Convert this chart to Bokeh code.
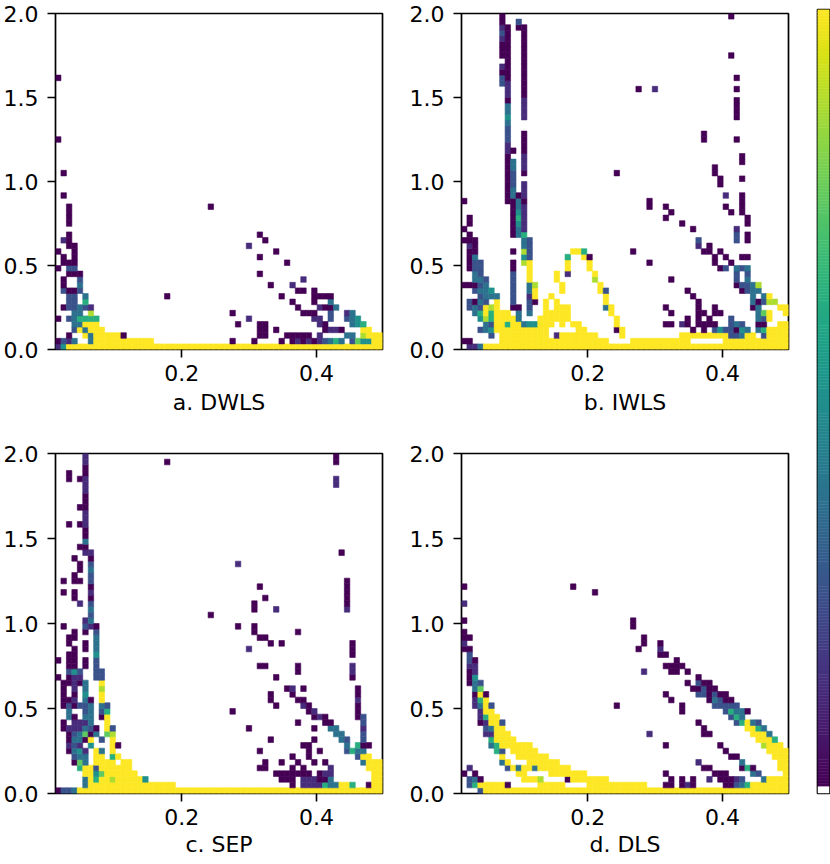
from bokeh.plotting import figure
from bokeh.layouts import row, column
from bokeh.models import ColumnDataSource, FixedTicker, PrintfTickFormatter, LinearColorMapper
from bokeh.palettes import Viridis256
from bokeh.embed import file_html
from bokeh.resources import INLINE

# ---------------- data ----------------
X_LO, X_HI = 0.0128, 0.4977
Y_LO, Y_HI = 0.0, 2.0
N_BINS = 60
LEVEL_LOW, LEVEL_HIGH = 1, 9
X_TICKS = [0.2, 0.4]
Y_TICKS = [0.0, 0.5, 1.0, 1.5, 2.0]
TITLES = ["a. DWLS", "b. IWLS", "c. SEP", "d. DLS"]

# row index (from bottom) -> "col:level" / "col1-col2:level" cells
DWLS = {
    0: "0:2 1:5 2-59:9",
    1: "0:1 1:3 2:2 3:4 6:4 7-17:9 32:1 36:1 41:1 43:1 44:2 45:1 46:2 47:1 48:2 49:3 50:4 51:6 52:4 54:3 55:7 56-57:5 58-59:9",
    2: "2:1 5:9 6:4 7-11:9 12:1 37-38:1 42-46:1 48:2 53-54:4 56:8 57-59:9",
    3: "3:3 4:9 5:4 6-8:9 37-38:1 40:1 49:1 50-51:2 52:1 56-57:9",
    4: "3-4:4 5-7:9 33:1 37-38:1 48:2 49:1 54:4 55:5 56:6",
    5: "0:1 2:3 3:4 4-7:6 35:2 47-48:2 50:3 53:3 54:4 55:5",
    6: "3-4:4 6:8 32:1 45-47:1 50:3 53:2 54:4",
    7: "1:1 2-3:3 4:4 5:3 6:2 44:1 48:2 49-50:1 51:4",
    8: "2-3:3 5:6 43:1 47:1 50:4",
    9: "2-3:3 5:4 20:1 41:1 47-50:1",
    10: "1:3 2-3:1 4:3 44-45:1 47:1",
    11: "1:1 4:4 39:1 43:2",
    12: "1:1 4:3 45:2",
    13: "2-4:1 37:1",
    14: "0:1 2-3:3",
    15: "1-3:1 42:1",
    16: "1:1 3:1 37:1",
    17: "0:1 3:1 40:1",
    18: "2-3:1 35:2",
    19: "1:2 2:1 38:1",
    20: "2:1 37:1",
    22: "2:1",
    23: "2:1",
    24: "2:1",
    25: "2:1 28:1",
    27: "1:1",
    31: "1:1",
    37: "0:1",
    48: "0:1",
}

IWLS = {
    0: "1-2:2 3:4 4-59:9",
    1: "0-1:1 7-26:9 31-41:9 48-59:9",
    2: "5:3 7-15:9 17:2 18-24:9 29:9 40-48:9 49-50:3 51:4 52-53:9 55:3 56-59:9",
    3: "3:3 4:4 5:5 6-15:9 21-22:9 28:1 29:9 42:1 44:1 46:3 47:5 48-49:3 50:1 51:5 52:4 54:4 55:6 56-59:9",
    4: "4:4 5:3 6-7:9 8:6 9-10:9 11:4 12-13:5 14-16:9 18:9 20-21:9 28:9 37-38:1 40:2 41:1 43-46:1 49:3 50:4 51:3 54-55:1 58-59:9",
    5: "3:5 4:8 5:6 6-9:9 10:4 14-19:9 28:9 41:1 43:1 45:1 49:3 54:4 55:3 56:9",
    6: "2:4 3:6 4:9 5:6 6-8:9 10:4 12:4 15-19:9 27:9 38:1 43-44:1 46-47:1 54:4 55:7 56:9 59:9",
    7: "1:3 2:4 3:3 4:9 5:8 6:9 9-10:1 12:3 15:9 17-19:9 26:4 27:9 37:1 43:1 46:1 53:1 54:4 58-59:9",
    8: "1:3 2:1 3:4 4:3 6:9 9:3 12:3 13:1 15:9 17:9 26:9 43:1 53:4 54:1 55:3 56-57:8",
    9: "3:3 4-6:4 9:3 12:2 13:9 16:9 26:9 42:1 53:4 55:4 56:9",
    10: "2:3 3-4:4 5:5 9:3 12:4 13:9 18:9 25:9 26:3 41:1 51:1 52:3 53-54:4",
    11: "0-2:1 3:3 4:4 9:3 12:4 13:8 18:9 25:9 50:1 51-52:3 53:4 54:8",
    12: "2-3:4 4:3 9:3 12:9 17:9 24:8 38:1 50:3 52:4",
    13: "2:4 3:3 9:3 12:9 17:9 19:2 24:9 50:3 52:3",
    14: "1:1 2-3:3 9:1 12:9 19:9 23:9 47:1 48:3 50:4 51:3 52:4",
    15: "1:1 2-3:3 9:1 11:8 12:9 19:9 23:9 34:1 46:1 49:1",
    16: "1:1 2:4 11:5 12:3 19:6 22:9 23:1 46:1 48:1 51-52:1",
    17: "1-2:1 9:1 11:8 12:3 20-21:9 22:6 31:1 44-45:1 47:1",
    18: "1:2 2:1 11:4 12:3 43:2 45:1",
    19: "0-2:1 11:4 12:3 43:3 50:3 52:1",
    20: "1:1 9:1 10:4 11:6 50:3 52:1",
    21: "0:1 9:1 10:4 11:2 42:1 50:2",
    22: "1:1 9:1 10:5 11:2 40:1 52:1",
    23: "1:1 9:1 10:6 11:2 37:1 52:1",
    24: "9:1 10:5 11:2 38:1 49:1 51:1",
    25: "9:1 10:4 11:2 34:1 37:1 48:1 51:1",
    26: "0:1 8:1 9:1 10:4 11:1 34:1 51:1",
    27: "8:1 9:4 10:1 11:2 48:2 51:1",
    28: "8:1 9:4 11:2",
    29: "8:1 9:3 11:2 47:1",
    30: "8:1 9:3 47:1 51:1",
    31: "8:1 9:3 11:1 28:1 46:1",
    32: "8:1 9:4 11:2 46:1",
    33: "8:1 9:4 11:2 51:1",
    34: "8:1 11:2 51:1",
    35: "8:2 9:1 11:1",
    36: "8:2 11:1",
    37: "8:3 11:1 44:1 50:1",
    38: "8:3 11:1 44:1",
    39: "8:3",
    40: "8:4",
    41: "8:5 11:2 50:1",
    42: "8:4 11:2 50:1",
    43: "8:4 11:2 50:1",
    44: "8:1 11:2 50:1",
    45: "8:2 11:1",
    46: "8:2 11:1 32:1 35:2 50:1",
    47: "7:3 8:2 11:1",
    48: "7:3 8:1 11:1 50:1",
    49: "7:1 8:1 11:1",
    50: "7:2 8:1 11:1",
    51: "8:1 11:1",
    52: "7:1 8:1 11:1 49:1",
    53: "7:1 8:1 11:1",
    54: "7:1 8:1 11:1",
    55: "7:2 8:1 11:1",
    56: "7:3 8:1 11:1",
    57: "7:2 8:1 10:1 11:1",
    58: "7:1 10:3",
    59: "7:1 49:1",
}

SEP = {
    0: "0:1 1-2:3 3:4 4-59:9",
    1: "5:4 6-21:9 43:1 45:2 46-48:2 49:6 50-51:4 52-53:9 54:6 57:1 58-59:9",
    2: "5:4 6:9 7:6 8-9:9 10:8 11-15:9 16:5 41-43:1 45-47:2 48-49:1 50:4 58-59:9",
    3: "5-6:9 7:5 8:7 9-14:9 40-46:1 48:1 49-50:2 58-59:9",
    4: "4:6 5-6:9 7:3 8-13:9 37-38:1 43:1 45:1 50:2 57-59:9",
    5: "3:1 4:7 5:4 7-10:9 12-13:9 38:1 41:1 44:1 47:1 49:1 56:4 57-59:9",
    6: "3:3 4-5:4 7-8:9 10:6 11:9 43:1 46:1 55:3 56-57:9",
    7: "2:1 3:4 4:5 5:2 7:9 8:4 10:9 37:1 46:1 48:1 53:3 54:6 55-56:4",
    8: "2:2 3:3 4:2 6:5 10:9 11:1 45-46:1 53:4 55:6 56-57:1",
    9: "2:1 3-4:4 5:1 6:9 8:3 10:9 39:1 47:1 52:4 53:3 56:3",
    10: "2:1 3:3 4:4 5:7 6:1 7:4 9:7 10:8 51-52:4 56:3",
    11: "1:1 2-4:2 5:4 6:3 7:1 9:9 10:3 35:1 47:1 50-51:4 56:2",
    12: "1:1 3-5:2 6:4 9:9 44:1 49-50:1 56:3",
    13: "2:4 3:1 5:4 6:4 8:1 9:9 47:1 48:2 49:1 55:1 56:3",
    14: "2:4 5:3 6:4 8:3 9:6 32:1 46:1 47:2 55:1",
    15: "1:1 2:3 3:1 4:3 5:3 6:4 8:4 9:3 40:1 45:2 46:1 55:1",
    16: "1-2:1 3:2 5:4 6:1 8:9 39:1 44-45:1 55:2",
    17: "1:1 3:1 5:5 8:9 39:1 43:1 55:1",
    18: "1:1 3:2 5:4 8:8 42:1 43:2 45:1 55:1",
    19: "1-2:1 3:2 4:1 5:4 8:9",
    20: "0:1 2:1 3-4:2 7-8:3 40:1 54:1",
    21: "2:3 3:5 4:3 7-8:3 44:1 54:2",
    22: "2-3:1 5:1 7:3 37-38:1 44:1 54:2",
    23: "0:1 2-3:1 5:1 7:3",
    24: "2-3:1 7:5 54:1",
    25: "3:1 5:1 7:4 35:2 54:1",
    26: "2:1 5:1 7:4 39:1 41:1 54:1",
    27: "2-3:1 7:4 37-38:1",
    28: "3:1 5:1 7:3 36:1 44:1",
    29: "1:1 5:3 6:2 7:1 33:1 36:1",
    30: "5:2 6:4",
    31: "6:3 28:1",
    32: "6:4 36:1 40:2 53:2",
    33: "4:2 6:3 36:1 53:1",
    34: "3:1 6:1 38:1 53:1",
    35: "1:1 3:1 6:2 53:1",
    36: "6:1 37:1 53:1",
    37: "1:1 3-4:1 6:3 53:1",
    38: "3:1 6:3",
    39: "4:1 6:4",
    40: "4:1 6:3 33:2",
    41: "3:1 6:1",
    42: "5-6:2 52:1",
    43: "4-5:1",
    44: "5:4",
    45: "5:1",
    46: "5:1",
    47: "2:1 4:1 5:2",
    48: "5:2",
    49: "5:2",
    50: "4-5:1",
    51: "5:1",
    52: "5:1",
    53: "5:2",
    54: "5:2 51:2",
    55: "2:1 4:1 5:2 51:2",
    56: "2:1 5:1",
    57: "5:1",
    58: "5:2 20:1 51:1",
    59: "5:2 51:1",
}

DLS = {
    0: "3:3 4-59:9",
    1: "1:3 2:6 3-7:9 8:1 14-18:9 23-33:9 37-38:1 40:1 41:2 42:1 48-49:1 50:3 51:4 52:6 53-59:9",
    2: "1:3 2:4 3:1 11-13:9 14:8 19:1 20-26:9 38:1 40:1 42:1 45:2 47-49:1 50:2 51:3 55:4 56-59:9",
    3: "0:1 2:1 10-11:9 16-22:9 37:1 46-48:1 53:4 54:3 59:9",
    4: "1:2 8:3 9:9 10:4 11-12:9 13:4 14-19:9 44-45:1 51:1 52:6 53:1 58-59:9",
    5: "7:4 8:9 12-17:9 43:2 51:4 58-59:9",
    6: "7:9 10-15:9 49-50:1 57-59:9",
    7: "6:6 7:3 9-13:9 48:1 56-59:9",
    8: "5:4 6:6 7-12:9 37:1 47:1 55:8 56-58:9",
    9: "5:6 6-9:9 54-56:9 57:6",
    10: "4-5:2 6-8:9 34:2 44-45:1 53-55:9 56:4",
    11: "4:3 5:4 6-7:9 44:1 52-53:9 54:6 55:4",
    12: "3:1 4:2 5-6:9 7:3 43:1 50:3 51:6 52:9 53:4 54:3",
    13: "3:2 4:6 5-6:9 49:3 50:6 51:4",
    14: "3:2 4-5:9 40:1 48:3 49:6 50-51:4 52:1",
    15: "2:2 3:4 4:9 5:3 28:1 40:1 46-50:3",
    16: "2:2 3:6 4:9 38:1 45:1 46:4 47:3 48-49:1",
    17: "2:1 3:9 4:1 37:1 43-44:3 45:1 46:3 47-48:1",
    18: "2:4 3:7 42-43:1 44:3 45-46:1",
    19: "1:1 2:4 3:3 41:1 43:3 44-45:1",
    20: "1:1 2:5 43:1",
    21: "1:1 2:2 33:2 38-39:1 41:1",
    22: "1-2:2 37-40:1",
    23: "1:3 2:1 39:1",
    24: "1:3 36-37:1",
    25: "0-1:1 32:1 36:2",
    26: "0:2 33:1 36:1",
    27: "0-1:1 33:1",
    28: "0:1",
    29: "31:1",
    30: "0:1 31:1",
    33: "0:2",
    35: "24:1",
    36: "0:1 20:1",
}

PANELS = [DWLS, IWLS, SEP, DLS]

# ---------------- build ----------------
DX = (X_HI - X_LO) / N_BINS
DY = (Y_HI - Y_LO) / N_BINS
FONT = "DejaVu Sans"
mapper = LinearColorMapper(palette=Viridis256, low=LEVEL_LOW, high=LEVEL_HIGH)


def cells(rows):
    x0, x1, y0, y1, v = [], [], [], [], []
    for r, spec in rows.items():
        for tok in spec.split():
            cs, lv = tok.split(":")
            if "-" in cs:
                a, b = (int(t) for t in cs.split("-"))
            else:
                a = b = int(cs)
            for c in range(a, b + 1):
                x0.append(X_LO + c * DX)
                x1.append(X_LO + (c + 1) * DX)
                y0.append(Y_LO + r * DY)
                y1.append(Y_LO + (r + 1) * DY)
                v.append(int(lv))
    return ColumnDataSource(dict(x0=x0, x1=x1, y0=y0, y1=y1, v=v))


def panel(rows, title, width, height, bl, br, bt, bb, title_standoff):
    p = figure(width=width, height=height, x_range=(X_LO, X_HI), y_range=(Y_LO, Y_HI),
               output_backend="svg", toolbar_location=None,
               min_border_left=bl, min_border_right=br, min_border_top=bt, min_border_bottom=bb)
    src = cells(rows)
    cmap = {"field": "v", "transform": mapper}
    p.quad(left="x0", right="x1", bottom="y0", top="y1", source=src,
           fill_color=cmap, line_color=cmap, line_width=0.6)
    p.grid.visible = False
    p.outline_line_color = "black"
    p.outline_line_width = 1.7
    p.outline_line_alpha = 1.0
    p.background_fill_color = "white"
    p.xaxis.ticker = FixedTicker(ticks=X_TICKS)
    p.yaxis.ticker = FixedTicker(ticks=Y_TICKS)
    for ax in (p.xaxis[0], p.yaxis[0]):
        ax.formatter = PrintfTickFormatter(format="%.1f")
        ax.axis_line_color = None
        ax.major_tick_line_color = "black"
        ax.major_tick_line_width = 1.6
        ax.major_tick_in = 0
        ax.major_tick_out = 8
        ax.minor_tick_line_color = None
        ax.major_label_text_font = FONT
        ax.major_label_text_font_size = "22px"
        ax.major_label_text_color = "black"
    p.xaxis.major_label_standoff = 7
    p.yaxis.major_label_standoff = 9
    p.xaxis.axis_label = title
    p.xaxis.axis_label_text_font = FONT
    p.xaxis.axis_label_text_font_size = "22px"
    p.xaxis.axis_label_text_font_style = "normal"
    p.xaxis.axis_label_text_color = "black"
    p.xaxis.axis_label_standoff = title_standoff
    return p


TOP_H = 439
BOT_H = 864 - TOP_H
pa = panel(PANELS[0], TITLES[0], 406, TOP_H, 53, 24, 13, TOP_H - 349, 6)
pb = panel(PANELS[1], TITLES[1], 386, TOP_H, 53, 4, 13, TOP_H - 349, 6)
pc = panel(PANELS[2], TITLES[2], 406, BOT_H, 53, 24, 14, 71, 4)
pd = panel(PANELS[3], TITLES[3], 386, BOT_H, 53, 4, 14, 71, 4)

# colour bar
cb = figure(width=38, height=864, x_range=(0, 1), y_range=(0, 1),
            output_backend="svg", toolbar_location=None,
            min_border_left=25, min_border_right=1, min_border_top=9, min_border_bottom=71)
n = len(Viridis256)
under = 0.009
edges = [under + (1 - under) * i / n for i in range(n + 1)]
cb.quad(left=0, right=1, bottom=edges[:-1], top=edges[1:], fill_color=list(Viridis256),
        line_color=list(Viridis256), line_width=0.5)
cb.quad(left=0, right=1, bottom=0, top=under, fill_color="white", line_color=None)
cb.axis.visible = False
cb.grid.visible = False
cb.outline_line_color = "black"
cb.outline_line_width = 1.7

layout = row(column(row(pa, pb), row(pc, pd)), cb)
open("out.html", "w").write(file_html(layout, INLINE))
